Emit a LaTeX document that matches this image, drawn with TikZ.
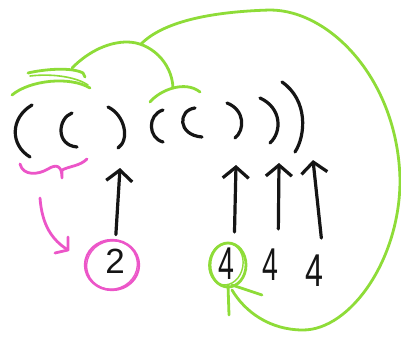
\documentclass[tikz,border=0pt]{standalone}
\usepackage{fontspec}
\setmainfont{Liberation Sans}
\usetikzlibrary{arrows.meta,shapes.geometric}
\definecolor{inkblack}{HTML}{151515}
\definecolor{hlpink}{HTML}{EC55C8}
\definecolor{hlgreen}{HTML}{8EDC38}
\tikzset{
  ink/.style={draw=inkblack, line width=3.2pt, line cap=round, line join=round},
  parenstroke/.style={ink},
  uparrow/.style={ink, -{Straight Barb[length=11pt,width=26pt]}},
  pinkpen/.style={draw=hlpink, line width=2.8pt, line cap=round, line join=round},
  greenpen/.style={draw=hlgreen, line width=2.8pt, line cap=round, line join=round},
  digit/.style={inner sep=0pt, text=inkblack},
  smalldigit/.style={digit, font=\fontsize{35}{35}\selectfont},
  tall/.style={digit, font=\fontsize{46}{46}\selectfont},
}
\begin{document}
\begin{tikzpicture}[x=1pt,y=-1pt]
\useasboundingbox (0,0) rectangle (401,337);
\fill[white] (0,0) rectangle (401,337);

% the bracket string ( ( ) ( ( ) ) )
\draw[parenstroke] (32,105) .. controls (10,118) and (10,145) .. (30,157);
\draw[parenstroke] (72,113) .. controls (58,118) and (55,145) .. (77,147);
\draw[parenstroke] (108,107) .. controls (125,115) and (130,140) .. (118,148);
\draw[parenstroke] (163,110) .. controls (147,115) and (148,138) .. (163,142);
\draw[parenstroke] (195,108) .. controls (178,110) and (177,135) .. (202,137);
\draw[parenstroke] (227,103) .. controls (245,110) and (245,130) .. (235,138);
\draw[parenstroke] (260,98) .. controls (282,108) and (282,132) .. (270,143);
\draw[parenstroke] (282,82) .. controls (308,100) and (306,135) .. (295,152);

% arrow targets below the closing brackets
\coordinate (u3) at (120,168);
\coordinate (u6) at (236,165);
\coordinate (u7) at (279,163);
\coordinate (u8) at (313,160);

% depth values
\node[smalldigit] (n2) at (115,261) {2};
\node[tall] (n4a) at (226,264) {\scalebox{0.62}[1]{4}};
\node[tall] (n4b) at (270,265) {\scalebox{0.62}[1]{4}};
\node[tall] (n4c) at (314,271) {\scalebox{0.7}[1]{4}};

\draw[uparrow, shorten <=14pt] (n2.north) -- (u3);
\draw[uparrow, shorten <=16pt] (n4a.north east) -- (u6);
\draw[uparrow, shorten <=20pt] (n4b.north east) -- (u7);
\draw[uparrow, shorten <=17pt] (n4c.north east) -- (u8);

% pink: first pair marked, pointing to its circled value
\node[ellipse, draw=hlpink, line width=2.4pt, minimum width=54pt, minimum height=50pt] (c2) at (112,265) {};
\draw[pinkpen, line width=1.3pt] (112,265) ellipse [x radius=25.5, y radius=24, rotate=20];
\draw[pinkpen] (20,164) .. controls (23,176) and (38,175) .. (48,169)
  .. controls (56,164) and (62,165) .. (62,178) -- (62,170)
  .. controls (70,166) and (80,166) .. (87,159);
\coordinate (sq) at (40,198);
\coordinate (pinktip) at (68,250);
\draw[pinkpen] (sq) .. controls (42,225) and (52,240) .. (pinktip);
\draw[pinkpen] (68,237) -- (pinktip) -- (55,253);

% green: nesting tree over the string
\draw[greenpen] (12,95) .. controls (30,80) and (70,76) .. (90,88);
\draw[greenpen] (28,73) .. controls (45,69) and (72,67) .. (83,73) -- (85,77);
\draw[greenpen, line width=1.6pt] (30,76) .. controls (55,73) and (78,78) .. (88,85);
\draw[greenpen] (72,68) .. controls (90,50) and (110,42) .. (127,42)
  .. controls (150,42) and (172,62) .. (173,88);
\draw[greenpen] (150,102) .. controls (160,90) and (185,80) .. (200,92);
\draw[greenpen] (141,44) .. controls (160,25) and (200,12) .. (270,10)
  .. controls (330,10) and (398,80) .. (400,180)
  .. controls (400,260) and (350,330) .. (303,330)
  .. controls (270,330) and (245,312) .. (232,290);

% green loop round the first 4
\draw[greenpen] (n4a.center) ++(2,1) ellipse [x radius=18, y radius=22];
\draw[greenpen, line width=1.4pt] (n4a.center) ++(0,0) ellipse [x radius=17, y radius=21, rotate=-10];
\draw[greenpen] (228,285) -- (229,315);
\draw[greenpen] (232,285) -- (262,295);
\end{tikzpicture}
\end{document}
